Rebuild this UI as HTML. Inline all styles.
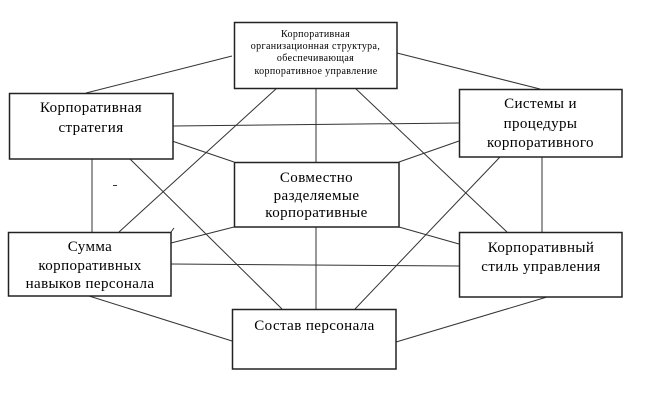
<!DOCTYPE html>
<html>
<head>
<meta charset="utf-8">
<style>
html,body{margin:0;padding:0;background:#fff;}
body{width:669px;height:407px;overflow:hidden;}
svg{display:block;}
text{font-family:"Liberation Serif","DejaVu Serif",serif;fill:#000;text-anchor:middle;}
.b{font-size:15px;letter-spacing:0.4px;}
.s{font-size:10px;letter-spacing:0.35px;}
</style>
</head>
<body>
<svg width="669" height="407" viewBox="0 0 669 407" xmlns="http://www.w3.org/2000/svg">
<g stroke="#333" stroke-width="1" fill="none">
  <line x1="86" y1="93" x2="232" y2="56"/>
  <line x1="397" y1="53" x2="540" y2="89"/>
  <line x1="173" y1="126" x2="459" y2="123"/>
  <line x1="172" y1="141" x2="234" y2="162"/>
  <line x1="399" y1="162" x2="459" y2="141"/>
  <line x1="277" y1="88" x2="119" y2="232"/>
  <line x1="316" y1="88" x2="316" y2="162"/>
  <line x1="355" y1="88" x2="507" y2="232"/>
  <line x1="500" y1="157" x2="355" y2="309"/>
  <line x1="542" y1="157" x2="542" y2="232"/>
  <line x1="92" y1="159" x2="92" y2="232"/>
  <line x1="130" y1="159" x2="282" y2="309"/>
  <line x1="171" y1="243" x2="234" y2="227"/>
  <line x1="171" y1="264" x2="459" y2="266"/>
  <line x1="399" y1="227" x2="459" y2="244"/>
  <line x1="89" y1="296" x2="232" y2="341"/>
  <line x1="396" y1="342" x2="547" y2="297"/>
  <line x1="316" y1="227" x2="316" y2="309"/>
  <line x1="113" y1="185.5" x2="117" y2="185.5"/>
  <line x1="171" y1="232" x2="174" y2="228"/>
</g>
<g fill="#fff" stroke="#222" stroke-width="1.5">
  <rect x="234.5" y="22.5" width="162.5" height="66"/>
  <rect x="9.5" y="93.5" width="163.5" height="65.5"/>
  <rect x="459.5" y="89.5" width="162.5" height="67.5"/>
  <rect x="234.5" y="162.5" width="164.5" height="64.5"/>
  <rect x="8.5" y="232.5" width="162.5" height="63.5"/>
  <rect x="459.5" y="232.5" width="162.5" height="64.5"/>
  <rect x="232.5" y="309.5" width="163.5" height="59.5"/>
</g>
<text class="s" x="315.5" y="37">Корпоративная</text>
<text class="s" x="315.5" y="49">организационная структура,</text>
<text class="s" x="315.5" y="61">обеспечивающая</text>
<text class="s" x="316" y="74">корпоративное управление</text>

<text class="b" x="91" y="112">Корпоративная</text>
<text class="b" x="91" y="132">стратегия</text>

<text class="b" x="540.5" y="108">Системы и</text>
<text class="b" x="540.5" y="128">процедуры</text>
<text class="b" x="540.5" y="147">корпоративного</text>

<text class="b" x="316.5" y="182">Совместно</text>
<text class="b" x="316.5" y="200">разделяемые</text>
<text class="b" x="316.5" y="217">корпоративные</text>

<text class="b" x="90" y="251">Сумма</text>
<text class="b" x="90" y="270">корпоративных</text>
<text class="b" x="90" y="288">навыков персонала</text>

<text class="b" x="541" y="252">Корпоративный</text>
<text class="b" x="541" y="271">стиль управления</text>

<text class="b" x="314.5" y="330">Состав персонала</text>
</svg>
</body>
</html>
